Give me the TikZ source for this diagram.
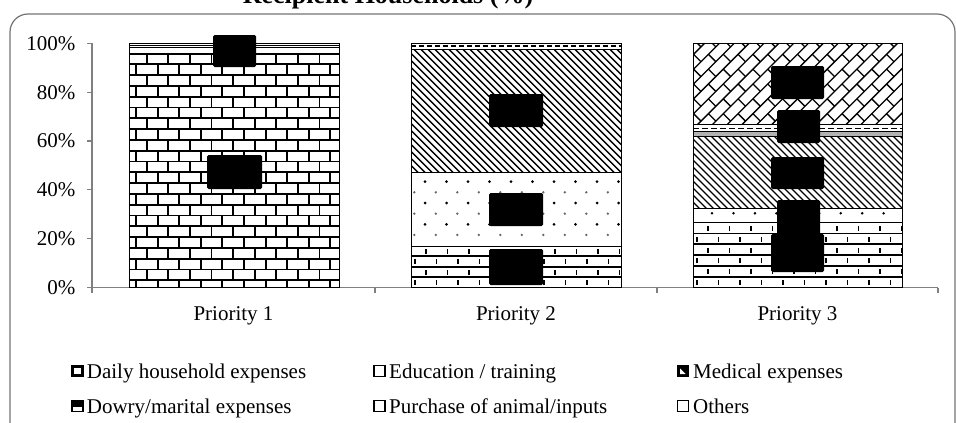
\documentclass[tikz,border=0pt]{standalone}
\usepackage{fontspec}
\setmainfont{Liberation Serif}
\definecolor{axisgray}{gray}{0.5}
\definecolor{framegray}{gray}{0.45}
\begin{document}
\begin{tikzpicture}[x=1pt,y=-1pt,
  lbl/.style={font=\fontsize{21}{25}\selectfont, inner sep=0pt},
  axisln/.style={draw=axisgray, line width=1.2pt},
  barline/.style={draw=black, line width=1pt},
  brickln/.style={black, line width=1.9pt},
  tickln/.style={black, line width=1.5pt},
  rowln/.style={black, line width=1.8pt},
  stripe/.style={black, line width=1.4pt},
  obrick/.style={black, line width=1.3pt},
  redact/.style={fill=black, draw=none, rounded corners=1.5pt},
  icon/.style={draw=black, fill=white, line width=1.5pt, minimum size=11pt, inner sep=0pt}]
\useasboundingbox (0,0) rectangle (956,423);
\clip (0,0) rectangle (956,423);

% title (cut at top) and frame
\node[font=\bfseries\fontsize{26}{30}\selectfont, anchor=base, inner sep=0pt] (title) at (388,3) {Recipient Households (\%)};
\draw[framegray, line width=1.2pt, rounded corners=18pt] (10,14) rectangle (955,440);

% axes
\draw[axisln] (92,43.3) -- (92,293);
\draw[axisln] (92,287.5) -- (938,287.5);
\foreach \v/\t in {0/0\%,1/20\%,2/40\%,3/60\%,4/80\%,5/100\%} {
  \pgfmathsetmacro\yy{287.5-\v*48.84}
  \draw[axisln] (87,\yy) -- (92,\yy);
  \node[lbl, anchor=base east] (ylab\v) at (75.5,\yy+7) {\t};
}
\foreach \xx in {375,657,938} \draw[axisln] (\xx,287.5) -- (\xx,293);

% ---------- Bar 1 ----------
\begin{scope}
  \clip (129,54) rectangle (339,287.5);
  \foreach \k in {-1,...,21} {
    \pgfmathsetmacro\ya{64.3+\k*10.8}
    \draw[brickln] (129,\ya) -- (339,\ya);
    \pgfmathsetmacro\off{mod(\k+100,2)*10.7}
    \foreach \j in {-1,...,10} \draw[brickln] ({136+\off+\j*21.6},\ya) -- ++(0,10.8);
  }
\end{scope}
\draw[barline, line width=1.6pt] (129,54) -- (339,54);
\draw[barline] (129,47.7) -- (339,47.7);
\draw[barline] (129,45) -- (339,45);
\draw[barline] (129,43.3) rectangle (339,287.5);

% ---------- Bar 2 ----------
% daily household (rows with ticks)
\begin{scope}
  \clip (411,246) rectangle (621,287.5);
  \foreach \k in {0,...,3} {
    \pgfmathsetmacro\ya{287.5-\k*10.4}
    \draw[rowln] (411,\ya) -- (621,\ya);
    \pgfmathsetmacro\off{mod(\k,2)*10.75}
    \foreach \j in {0,...,10} \draw[tickln] ({415+\off+\j*21.5},{\ya-2.5}) -- ++(0,-5);
  }
\end{scope}
% education (dots)
\begin{scope}
  \clip (411,172.7) rectangle (621,246);
  \foreach \r in {0,2,4} \foreach \j in {0,...,9}
    \fill[black] ({425+\j*21.5},{181.7+\r*10.65}) circle (1.5);
  \foreach \r in {1,3,5} \foreach \j in {0,...,9}
    \fill[black!60] ({414.3+\j*21.5},{181.7+\r*10.65}) circle (1.3);
\end{scope}
% medical (diagonal stripes)
\begin{scope}
  \clip (411,49.3) rectangle (621,172.7);
  \foreach \s in {-130,-123,...,215} \draw[stripe] ({411+\s},49.3) -- ++(130,130);
\end{scope}
\draw[barline] (411,246) -- (621,246);
\draw[barline] (411,172.7) -- (621,172.7);
\draw[barline, line width=1.2pt] (411,49.3) -- (621,49.3);
\draw[black, line width=1.2pt, dash pattern=on 5pt off 3pt] (411,45.9) -- (621,45.9);
\draw[barline] (411,43.3) rectangle (621,287.5);

% ---------- Bar 3 ----------
% daily household
\begin{scope}
  \clip (693,222.7) rectangle (902,287.5);
  \foreach \k in {0,...,5} {
    \pgfmathsetmacro\ya{287.5-\k*10.8}
    \draw[rowln] (693,\ya) -- (902,\ya);
    \pgfmathsetmacro\off{mod(\k,2)*10.75}
    \foreach \j in {0,...,10} \draw[tickln] ({697+\off+\j*21.5},{\ya-2.5}) -- ++(0,-5);
  }
\end{scope}
% education (dots)
\begin{scope}
  \clip (693,208.3) rectangle (902,222.7);
  \foreach \j in {0,...,9} \fill[black] ({712+\j*21.45},213.3) circle (1.4);
\end{scope}
% medical
\begin{scope}
  \clip (693,136) rectangle (902,208.3);
  \foreach \s in {-80,-73,...,215} \draw[stripe] ({693+\s},136) -- ++(80,80);
\end{scope}
% dowry / purchase bands
\fill[black!30] (693,131.7) rectangle (902,136);
\draw[black, line width=1.2pt, dash pattern=on 6pt off 3pt] (693,128.3) -- (902,128.3);
\draw[barline] (693,131.7) -- (902,131.7);
\draw[barline] (693,136) -- (902,136);
% others (diagonal brick)
\begin{scope}
  \clip (693,43.3) rectangle (902,124);
  \begin{scope}[shift={(797.5,84)}, rotate=45]
    \foreach \k in {-12,...,12} {
      \pgfmathsetmacro\yy{\k*10.5}
      \draw[obrick] (-170,\yy) -- (170,\yy);
      \pgfmathsetmacro\off{mod(\k+100,2)*10.5}
      \foreach \j in {-9,...,9} \draw[obrick] ({\off+\j*21},\yy) -- ++(0,10.5);
    }
  \end{scope}
\end{scope}
\draw[barline] (693,124) -- (902,124);
\draw[barline] (693,208.3) -- (902,208.3);
\draw[barline] (693,222.7) -- (902,222.7);
\draw[barline] (693,43.3) rectangle (902,287.5);

% ---------- obscured data labels ----------
\fill[redact] (213,35) rectangle (256,67);
\fill[redact] (207,155) rectangle (262,189);
\fill[redact] (489,94) rectangle (543,127);
\fill[redact] (489,193) rectangle (543,226);
\fill[redact] (489,249) rectangle (543,285);
\fill[redact] (771,66) rectangle (824,99);
\fill[redact] (777,110) rectangle (820,143);
\fill[redact] (771,157) rectangle (824,189);
\fill[redact] (777,200) rectangle (820,236);
\fill[redact] (771,234) rectangle (824,272);

% category labels
\node[lbl, anchor=base] (c1) at (233.5,320) {Priority 1};
\node[lbl, anchor=base] (c2) at (516,320) {Priority 2};
\node[lbl, anchor=base] (c3) at (797.5,320) {Priority 3};

% legend
\node[icon, line width=2.8pt, minimum size=9.5pt] (ic1) at (77.5,371) {};
\node[icon] (ic2) at (379.5,371) {};
\node[icon, path picture={
   \fill[black] (path picture bounding box.south west) rectangle (path picture bounding box.north east);
   \fill[white] ([xshift=-3pt,yshift=-3pt]path picture bounding box.center) -- ([xshift=2.5pt,yshift=-3pt]path picture bounding box.center) -- ([xshift=-3pt,yshift=2.5pt]path picture bounding box.center) -- cycle;}] (ic3) at (683,371) {};
\node[icon, path picture={
   \fill[black] (path picture bounding box.north west) rectangle ([yshift=-1pt]path picture bounding box.east);}] (ic4) at (77.5,406) {};
\node[icon] (ic5) at (379.5,406) {};
\node[icon] (ic6) at (683,406) {};
\node[lbl, anchor=base west] (t1) at (86.7,378) {Daily household expenses};
\node[lbl, anchor=base west] (t2) at (389,378) {Education / training};
\node[lbl, anchor=base west] (t3) at (693,378) {Medical expenses};
\node[lbl, anchor=base west] (t4) at (86.7,413) {Dowry/marital expenses};
\node[lbl, anchor=base west] (t5) at (389,413) {Purchase of animal/inputs};
\node[lbl, anchor=base west] (t6) at (693,413) {Others};
\end{tikzpicture}
\end{document}
